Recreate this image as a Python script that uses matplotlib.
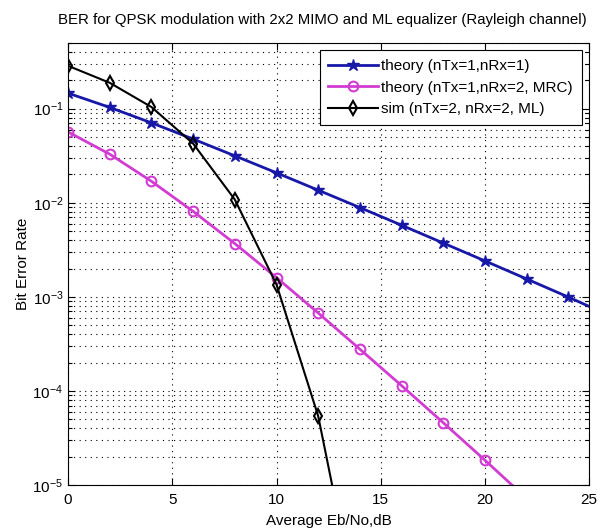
import numpy as np
import matplotlib
matplotlib.use("Agg")
import matplotlib.pyplot as plt
from matplotlib.ticker import LogLocator, NullFormatter, FixedLocator

plt.rcParams['font.family'] = ['Liberation Sans', 'DejaVu Sans']
plt.rcParams['mathtext.fontset'] = 'custom'
plt.rcParams['mathtext.rm'] = 'Liberation Sans'
plt.rcParams['mathtext.it'] = 'Liberation Sans:italic'

# Eb/No points (dB)
ebno_db = [0, 2, 4, 6, 8, 10, 12, 14, 16, 18, 20, 22, 24, 26]

# BER
ber_theory_1x1 = [0.146, 0.103, 0.0706, 0.0475, 0.0315, 0.0208, 0.0136,
                  0.00889, 0.00577, 0.00373, 0.00241, 0.00155, 0.000995, 0.00063]
ber_theory_mrc = [0.0565, 0.0328, 0.0169, 0.0081, 0.00368, 0.0016, 0.000674,
                  0.000278, 0.000114, 4.6e-5, 1.84e-5, 7.2e-6, 2.9e-6, 1.2e-6]
ber_sim_ml = [0.285, 0.188, 0.104, 0.0425, 0.0108, 0.00135, 5.4e-5, 3.5e-7]
ebno_sim = ebno_db[:len(ber_sim_ml)]

labels = ['theory (nTx=1,nRx=1)', 'theory (nTx=1,nRx=2, MRC)', 'sim (nTx=2, nRx=2, ML)']

fig = plt.figure(figsize=(6.08, 5.29), dpi=100)
ax = fig.add_axes([0.112, 0.083, 0.857, 0.836])

ax.semilogy(ebno_db, ber_theory_1x1, color='#1818a8', lw=2, marker='*', ms=9,
            label=labels[0])
ax.semilogy(ebno_db, ber_theory_mrc, color='#d23cd2', lw=2, marker='o', ms=7,
            mfc='none', mew=1.5, label=labels[1])
ax.semilogy(ebno_sim, ber_sim_ml, color='black', lw=1.5, marker='d', ms=7,
            mfc='none', mew=1.5, label=labels[2])

ax.set_xlim(0, 25)
ax.set_ylim(1e-5, 0.5)
ax.xaxis.set_major_locator(FixedLocator([0, 5, 10, 15, 20, 25]))
ax.yaxis.set_major_locator(LogLocator(base=10, numticks=10))
ax.yaxis.set_minor_locator(LogLocator(base=10, subs=np.arange(2, 10), numticks=20))
ax.yaxis.set_minor_formatter(NullFormatter())

ax.tick_params(which='both', direction='in', top=True, right=True, labelsize=11,
               colors='black')
ax.tick_params(axis='x', which='major', pad=6)
ax.tick_params(which='major', length=5, width=0.8)
ax.tick_params(which='minor', length=3, width=0.8)
ax.grid(True, which='major', axis='x', ls=(0, (1, 4)), color='black', lw=0.8)
ax.grid(True, which='both', axis='y', ls=(0, (1, 4)), color='black', lw=0.8)

fig.text(0.53, 0.963, 'BER for QPSK modulation with 2x2 MIMO and ML equalizer (Rayleigh channel)',
         fontsize=10.8, ha='center', va='center')
ax.set_xlabel('Average Eb/No,dB', fontsize=11, labelpad=5)
ax.set_ylabel('Bit Error Rate', fontsize=11, labelpad=2)

leg = ax.legend(loc='upper right', fontsize=11, fancybox=False, framealpha=1,
                edgecolor='black', borderaxespad=0.5, handlelength=3.3,
                handletextpad=0.2, borderpad=0.55, labelspacing=0.5)
leg.get_frame().set_linewidth(0.8)

for s in ax.spines.values():
    s.set_linewidth(0.8)

fig.savefig('out.png', dpi=100)
